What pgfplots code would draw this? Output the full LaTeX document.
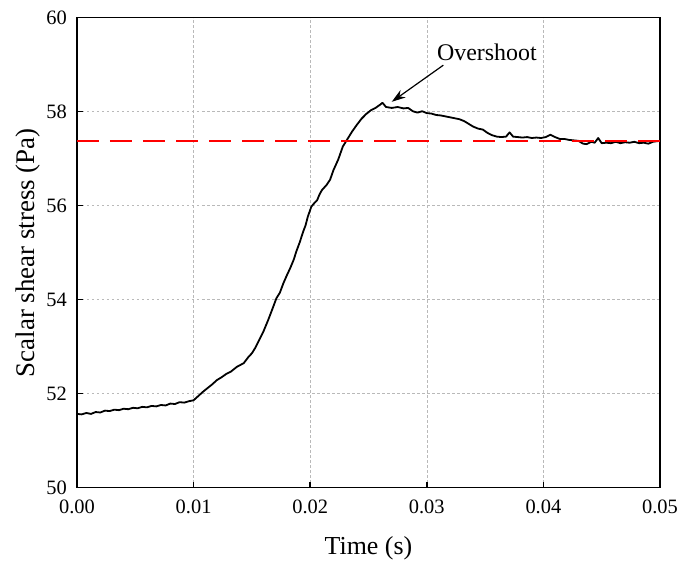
\documentclass[border=0pt]{standalone}
\usepackage{pgfplots}
\pgfplotsset{compat=1.18}
\usepackage{fontspec}
\setmainfont{Liberation Serif}
\usetikzlibrary{arrows.meta}
\begin{document}
\begin{tikzpicture}
\begin{axis}[
  scale only axis, width=583bp, height=470bp,
  xmin=0, xmax=0.05, ymin=50, ymax=60,
  xtick={0,0.01,0.02,0.03,0.04,0.05},
  ytick={50,52,54,56,58,60},
  xtick pos=left, ytick pos=left, tick align=inside,
  major tick length=6bp,
  axis line style={line width=1.5bp},
  every tick/.style={line width=1.5bp, black},
  grid=major,
  grid style={gray!55, line width=0.5bp, dash pattern=on 2.5bp off 2.5bp},
  /pgf/number format/assume math mode=true,
  xticklabel style={/pgf/number format/fixed, /pgf/number format/fixed zerofill, /pgf/number format/precision=2, font=\fontsize{20.5}{24}\selectfont, inner sep=0pt, anchor=north, yshift=-12bp},
  yticklabel style={font=\fontsize{20.5}{24}\selectfont, inner sep=0pt, anchor=east, xshift=-10bp},
  scaled x ticks=false,
  xlabel={Time (s)},
  ylabel={Scalar shear stress (Pa)},
  xlabel style={font=\fontsize{26}{30}\selectfont, at={(axis description cs:0.5,0)}, anchor=base, yshift=-67bp, inner sep=0pt},
  ylabel style={font=\fontsize{27}{30}\selectfont, at={(axis description cs:0,0.5)}, anchor=base, rotate=0, yshift=42bp, inner sep=0pt},
  clip=false,
]
\addplot[black, line width=1.8bp, line join=round] table {
0.0000 51.57
0.0004 51.56
0.0008 51.59
0.0012 51.57
0.0016 51.61
0.0020 51.60
0.0024 51.64
0.0028 51.63
0.0032 51.66
0.0036 51.65
0.0040 51.68
0.0044 51.67
0.0048 51.70
0.0052 51.69
0.0056 51.72
0.0060 51.71
0.0064 51.74
0.0068 51.73
0.0072 51.76
0.0076 51.75
0.0080 51.79
0.0084 51.78
0.0088 51.82
0.0092 51.81
0.0096 51.84
0.0100 51.86
0.0104 51.95
0.0108 52.04
0.0112 52.12
0.0116 52.20
0.0120 52.29
0.0124 52.35
0.0128 52.42
0.0132 52.47
0.0137 52.57
0.0140 52.61
0.0143 52.65
0.0147 52.78
0.0150 52.86
0.0153 52.98
0.0157 53.18
0.0160 53.33
0.0164 53.57
0.0168 53.83
0.0171 54.03
0.0174 54.15
0.0177 54.35
0.0180 54.52
0.0183 54.68
0.0186 54.86
0.0188 55.02
0.0191 55.22
0.0194 55.45
0.0196 55.58
0.0198 55.77
0.0201 55.98
0.0203 56.04
0.0206 56.12
0.0208 56.24
0.0210 56.33
0.0214 56.44
0.0217 56.55
0.0220 56.76
0.0224 56.98
0.0228 57.26
0.0232 57.42
0.0236 57.58
0.0240 57.72
0.0244 57.85
0.0248 57.95
0.0252 58.03
0.0256 58.08
0.0260 58.15
0.0262 58.19
0.0265 58.10
0.0270 58.08
0.0275 58.10
0.0280 58.07
0.0284 58.08
0.0288 58.01
0.0292 57.98
0.0296 58.01
0.0300 57.97
0.0304 57.96
0.0308 57.93
0.0312 57.92
0.0316 57.90
0.0320 57.88
0.0324 57.86
0.0328 57.84
0.0332 57.80
0.0336 57.74
0.0340 57.68
0.0344 57.64
0.0348 57.62
0.0352 57.55
0.0356 57.50
0.0360 57.47
0.0364 57.46
0.0368 57.47
0.0371 57.56
0.0374 57.47
0.0378 57.46
0.0382 57.45
0.0386 57.46
0.0390 57.44
0.0394 57.45
0.0398 57.44
0.0402 57.46
0.0406 57.51
0.0410 57.46
0.0414 57.42
0.0418 57.42
0.0422 57.40
0.0426 57.39
0.0430 57.38
0.0434 57.32
0.0437 57.31
0.0441 57.36
0.0444 57.34
0.0447 57.44
0.0450 57.33
0.0454 57.34
0.0458 57.33
0.0462 57.36
0.0466 57.33
0.0470 57.35
0.0474 57.34
0.0478 57.36
0.0482 57.33
0.0486 57.34
0.0490 57.32
0.0494 57.36
0.0497 57.37
0.0500 57.38
};
\addplot[red, line width=2.5bp, dash pattern=on 22bp off 11bp] coordinates {(0,57.38) (0.05,57.38)};
\draw[black, line width=1.2bp, -{Stealth[length=14bp,width=9bp]}] (axis cs:0.03142,58.99) -- (axis cs:0.02699,58.21);
\node[font=\fontsize{24}{28}\selectfont, inner sep=0pt] at (axis cs:0.03515,59.26) {Overshoot};
\end{axis}
\pgfresetboundingbox
\path ([shift={(-77bp,-77.3bp)}]current axis.south west) rectangle ([shift={(19bp,17.7bp)}]current axis.north east);
\end{tikzpicture}
\end{document}
